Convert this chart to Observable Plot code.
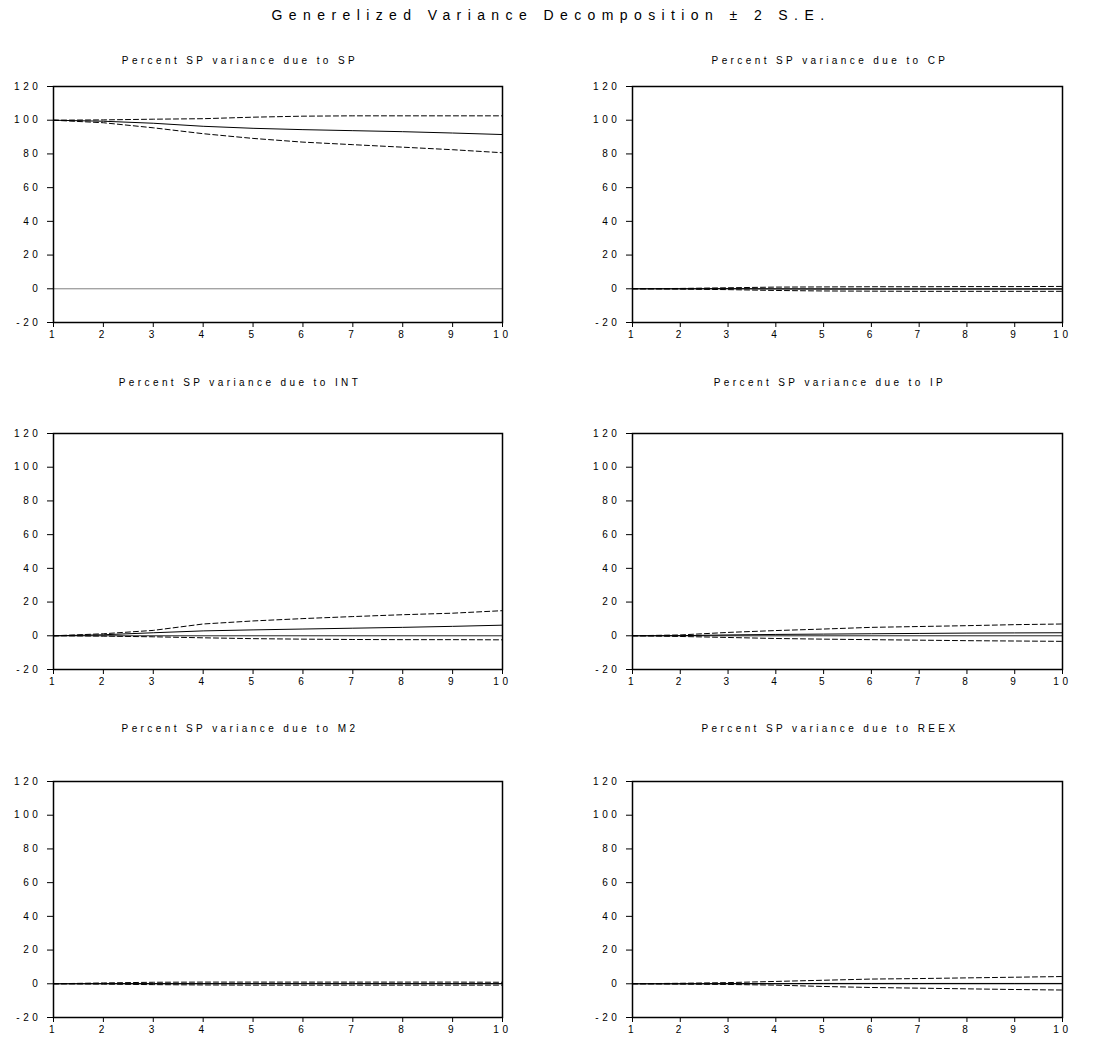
<!DOCTYPE html>
<html>
<head>
<meta charset="utf-8">
<script src="https://cdn.jsdelivr.net/npm/d3@7"></script>
<script src="https://cdn.jsdelivr.net/npm/@observablehq/plot@0.6"></script>
<style>
  html, body { margin: 0; padding: 0; background: #fff; }
  #root { position: relative; width: 1095px; height: 1040px; font-family: "Liberation Sans", Arial, sans-serif; color: #000; }
  .title { position: absolute; left: 0; top: 7px; width: 1095px; text-align: center; font-size: 14px; letter-spacing: 6.4px; padding-left: 7px; box-sizing: border-box; white-space: nowrap; }
  .ptitle { position: absolute; width: 400px; text-align: center; font-size: 10px; letter-spacing: 3.4px; white-space: nowrap; }
  .panel { position: absolute; }
</style>
</head>
<body>
<div id="root"></div>
<script>
// ---- data ----
const periods = [1, 2, 3, 4, 5, 6, 7, 8, 9, 10];
const yTicks = [-20, 0, 20, 40, 60, 80, 100, 120];

const spCenter = [100, 99.4, 98.2, 96.4, 95.2, 94.4, 93.8, 93.2, 92.4, 91.5];
const spUpper  = [100, 100.2, 100.6, 100.9, 101.8, 102.4, 102.6, 102.6, 102.6, 102.6];
const spLower  = [100, 98.5, 95.5, 92.0, 89.2, 87.0, 85.5, 84.0, 82.5, 80.7];

const cpCenter = [0, 0, 0.1, -0.1, -0.2, -0.2, -0.2, -0.2, -0.2, -0.2];
const cpUpper  = [0, 0.2, 0.6, 1.0, 1.1, 1.2, 1.2, 1.3, 1.3, 1.4];
const cpLower  = [0, -0.2, -0.5, -1.0, -1.3, -1.4, -1.5, -1.5, -1.5, -1.5];

const intCenter = [0, 0.6, 1.8, 2.9, 3.5, 4.0, 4.5, 5.0, 5.6, 6.3];
const intUpper  = [0, 1.2, 3.2, 7.0, 8.8, 10.2, 11.4, 12.5, 13.4, 14.9];
const intLower  = [0, -0.2, -0.6, -1.2, -1.7, -2.0, -2.2, -2.3, -2.3, -2.4];

const ipCenter = [0, 0.1, 0.5, 0.8, 1.0, 1.2, 1.4, 1.6, 1.7, 1.8];
const ipUpper  = [0, 0.5, 2.0, 3.1, 4.0, 5.0, 5.5, 6.0, 6.6, 7.0];
const ipLower  = [0, -0.4, -1.0, -1.6, -2.0, -2.3, -2.6, -2.9, -3.1, -3.3];

const m2Center = [0, 0.1, 0.1, 0.1, 0.1, 0.1, 0.1, 0.1, 0.1, 0.1];
const m2Upper  = [0, 0.5, 0.9, 1.0, 1.0, 1.0, 1.0, 1.0, 1.0, 0.9];
const m2Lower  = [0, -0.2, -0.5, -0.7, -0.8, -0.8, -0.8, -0.8, -0.8, -0.8];

const reexCenter = [0, 0, 0.1, 0.1, 0.2, 0.2, 0.2, 0.2, 0.2, 0.2];
const reexUpper  = [0, 0.3, 0.7, 1.4, 2.1, 2.8, 3.1, 3.5, 3.9, 4.3];
const reexLower  = [0, -0.2, -0.4, -0.8, -1.6, -2.2, -2.6, -3.0, -3.4, -3.7];

const mainTitle = "Generelized Variance Decomposition ± 2 S.E.";
const panelTitles = [
  "Percent SP variance due to SP",
  "Percent SP variance due to CP",
  "Percent SP variance due to INT",
  "Percent SP variance due to IP",
  "Percent SP variance due to M2",
  "Percent SP variance due to REEX"
];
const series = [
  [spCenter, spUpper, spLower],
  [cpCenter, cpUpper, cpLower],
  [intCenter, intUpper, intLower],
  [ipCenter, ipUpper, ipLower],
  [m2Center, m2Upper, m2Lower],
  [reexCenter, reexUpper, reexLower]
];

// ---- layout ----
const root = document.getElementById("root");
const t = document.createElement("div");
t.className = "title";
t.textContent = mainTitle;
root.appendChild(t);

const colSvgLeft = [0, 560];
const colMarginLeft = [53, 72];
const colTitleCenter = [240, 830];
const rowPlotTop = [86, 433, 781];
const rowTitleTop = [55, 377, 723];
const marginTop = 10, plotH = 236, marginBottom = 22, svgW = 522, marginRight = 20;

series.forEach((s, i) => {
  const col = i % 2, row = Math.floor(i / 2);
  const toRows = arr => periods.map((p, k) => ({x: p, y: arr[k]}));
  const chart = Plot.plot({
    width: svgW,
    height: marginTop + plotH + marginBottom,
    marginTop, marginBottom, marginRight,
    marginLeft: colMarginLeft[col],
    style: {fontFamily: '"Liberation Sans", Arial, sans-serif', fontSize: "10px", letterSpacing: "3.6px", color: "#000", background: "#fff"},
    x: {domain: [1, 10]},
    y: {domain: [-20, 120]},
    marks: [
      Plot.ruleY([0], {stroke: i === 0 ? "#808080" : "#222", strokeWidth: 1}),
      Plot.line(toRows(s[1]), {x: "x", y: "y", stroke: "#000", strokeWidth: 1, strokeDasharray: "5,3"}),
      Plot.line(toRows(s[2]), {x: "x", y: "y", stroke: "#000", strokeWidth: 1, strokeDasharray: "5,3"}),
      Plot.line(toRows(s[0]), {x: "x", y: "y", stroke: "#000", strokeWidth: 1}),
      Plot.frame({stroke: "#000", strokeWidth: 1.5}),
      Plot.axisY({ticks: yTicks, tickFormat: d => String(d), tickSize: 6, tickPadding: 6, label: null}),
      Plot.axisX({ticks: periods, tickFormat: d => String(d), tickSize: 5, tickPadding: 3, label: null})
    ]
  });
  chart.classList.add("panel");
  chart.style.position = "absolute";
  chart.style.left = colSvgLeft[col] + "px";
  chart.style.top = (rowPlotTop[row] - marginTop) + "px";
  root.appendChild(chart);

  const pt = document.createElement("div");
  pt.className = "ptitle";
  pt.textContent = panelTitles[i];
  pt.style.left = (colTitleCenter[col] - 200) + "px";
  pt.style.top = rowTitleTop[row] + "px";
  root.appendChild(pt);
});
</script>
</body>
</html>
